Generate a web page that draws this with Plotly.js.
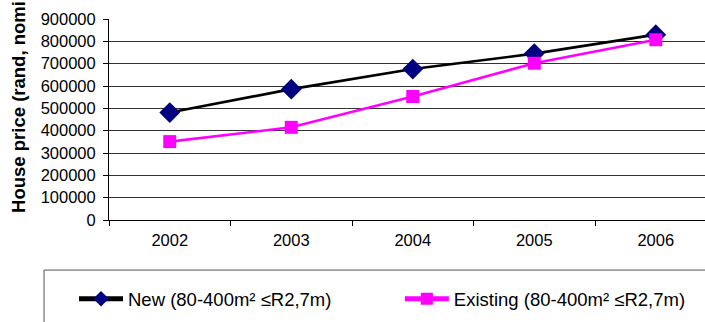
<!DOCTYPE html>
<html>
<head>
<meta charset="utf-8">
<script src="https://cdn.plot.ly/plotly-3.0.1.min.js"></script>
<style>
  html, body { margin: 0; padding: 0; background: #fff; }
  #chart { width: 705px; height: 322px; }
</style>
</head>
<body>
<div id="chart"></div>
<script>
// Average house prices by year, 80-400 m² homes up to R2.7m
const years = ['2002', '2003', '2004', '2005', '2006'];
const newPrice = [481000, 586000, 676000, 745000, 830000];
const existingPrice = [351000, 415000, 553000, 702000, 807000];
const yTicks = [0, 100000, 200000, 300000, 400000, 500000, 600000, 700000, 800000, 900000];
const seriesNames = ['New (80-400m² ≤R2,7m)', 'Existing (80-400m² ≤R2,7m)'];
const yTitle = 'House price (rand, nominal)';

const FONT = 'Liberation Sans, Arial, sans-serif';

const traces = [
  {
    x: years, y: newPrice, name: seriesNames[0],
    type: 'scatter', mode: 'lines+markers',
    line: { color: '#000000', width: 2.6 },
    marker: { symbol: 'diamond', size: 16, color: '#000080' },
    legend: 'legend'
  },
  {
    x: years, y: existingPrice, name: seriesNames[1],
    type: 'scatter', mode: 'lines+markers',
    line: { color: '#ff00ff', width: 2.6 },
    marker: { symbol: 'square', size: 13, color: '#ff00ff' },
    legend: 'legend2'
  }
];

// each series gets its own legend so both entries sit on one row
const legendBase = {
  orientation: 'h',
  y: -0.30, yanchor: 'top', xanchor: 'left',
  bgcolor: 'rgba(0,0,0,0)', borderwidth: 0,
  itemsizing: 'constant',
  itemwidth: 44,
  font: { family: FONT, size: 18.5, color: '#000000' }
};

const layout = {
  width: 705, height: 322,
  margin: { l: 109, r: 0, t: 19, b: 102, pad: 0 },
  paper_bgcolor: '#ffffff', plot_bgcolor: '#ffffff',
  font: { family: FONT, size: 16, color: '#000000' },
  xaxis: {
    type: 'category',
    range: [-0.5, 4.405],
    tickson: 'boundaries',
    ticks: 'outside', ticklen: 5, tickcolor: '#000000',
    ticklabelstandoff: 5,
    showline: true, linecolor: '#000000', linewidth: 1,
    showgrid: false, zeroline: false,
    tickfont: { family: FONT, size: 16.5 }
  },
  yaxis: {
    range: [0, 900000],
    tickvals: yTicks,
    ticktext: yTicks.map(String),
    ticks: 'outside', ticklen: 5, tickcolor: '#000000',
    ticklabelstandoff: 4,
    showline: true, linecolor: '#000000', linewidth: 1,
    showgrid: true, gridcolor: '#333333', gridwidth: 1,
    zeroline: false,
    tickfont: { family: FONT, size: 16.5 }
  },
  showlegend: true,
  legend: Object.assign({}, legendBase, { x: -0.0587 }),
  legend2: Object.assign({}, legendBase, { x: 0.488 }),
  shapes: [
    {
      type: 'rect', xref: 'paper', yref: 'paper',
      x0: -0.109, x1: 1.2, y0: -0.249, y1: -0.7,
      line: { color: '#555555', width: 1 }, fillcolor: 'rgba(0,0,0,0)'
    }
  ],
  annotations: [
    {
      text: '<b>' + yTitle + '</b>',
      xref: 'paper', yref: 'paper',
      x: -0.152, xanchor: 'center',
      y: 0.025, yanchor: 'bottom',
      textangle: -90, showarrow: false,
      font: { family: FONT, size: 18.5, color: '#000000' }
    }
  ]
};

Plotly.newPlot('chart', traces, layout, { displayModeBar: false, staticPlot: true });
</script>
</body>
</html>
